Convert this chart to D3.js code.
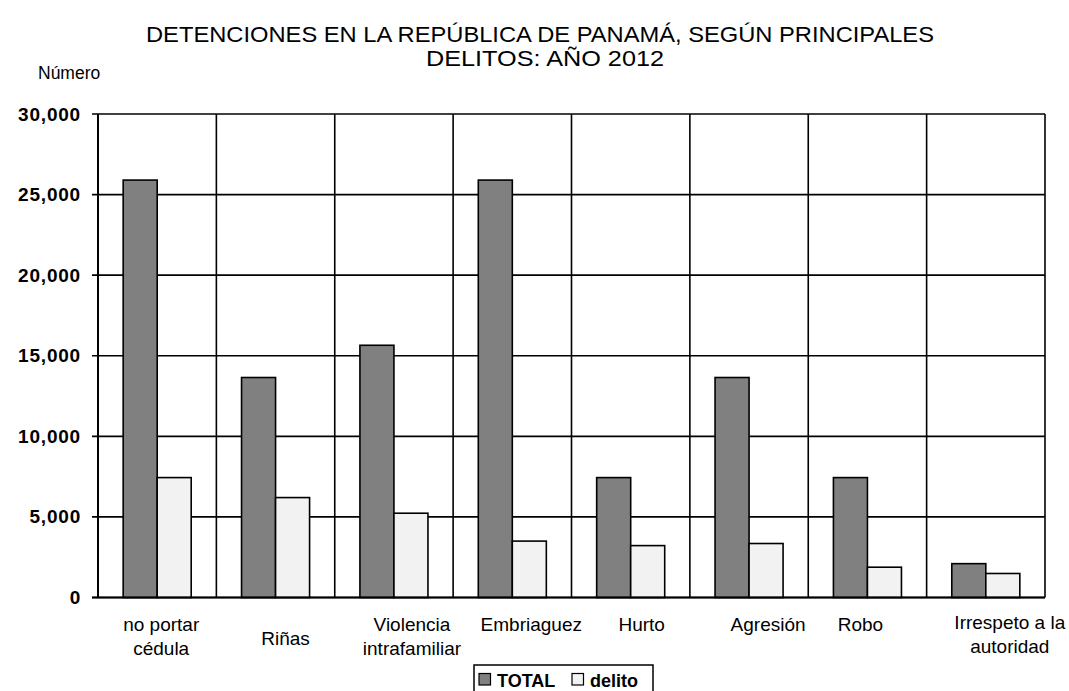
<!DOCTYPE html>
<html><head><meta charset="utf-8">
<script src="https://cdn.jsdelivr.net/npm/d3@7"></script>
<style>body{margin:0;background:#fff}text{font-family:"Liberation Sans",Arial,sans-serif}</style>
</head><body><svg id="c" width="1069" height="691"></svg>
<script>
const categories = [["no portar","cédula"],["Riñas"],["Violencia","intrafamiliar"],["Embriaguez"],["Hurto"],["Agresión"],["Robo"],["Irrespeto a la","autoridad"]];
const seriesNames = ["TOTAL","delito"];
const totalValues = [25900, 13650, 15650, 25900, 7440, 13650, 7440, 2100];
const delitoValues = [7440, 6200, 5230, 3500, 3220, 3350, 1880, 1490];
const yTicks = [0, 5000, 10000, 15000, 20000, 25000, 30000];
const titleLines = ["DETENCIONES EN LA REPÚBLICA DE PANAMÁ, SEGÚN PRINCIPALES","DELITOS: AÑO 2012"];
const yTitle = "Número";

const colors = ["#808080","#f2f2f2"];
const svg = d3.select("#c");
const L=98,R=1045,T=114,B=597.5;
const x = d3.scaleBand().domain(d3.range(categories.length)).range([L,R]).paddingInner(0).paddingOuter(0);
const y = d3.scaleLinear().domain([0,30000]).range([B,T]);
const inner = d3.scaleBand().domain([0,1]).range([0,x.bandwidth()]).paddingInner(0).paddingOuter(0.74);

// title
const titleW=[788,238], titleCx=[540,545];
svg.selectAll("text.title").data(titleLines).join("text").attr("class","title")
  .attr("x",(d,i)=>titleCx[i]-titleW[i]/2).attr("y",(d,i)=>42+i*24).attr("font-size",22)
  .attr("textLength",(d,i)=>titleW[i]).attr("lengthAdjust","spacingAndGlyphs").text(d=>d);
svg.append("text").attr("x",38).attr("y",79).attr("font-size",17.5).text(yTitle);

// grid
const g = svg.append("g");
g.selectAll("line.h").data(yTicks).join("line").attr("x1",L-6).attr("x2",R).attr("y1",d=>y(d)).attr("y2",d=>y(d))
  .attr("stroke","#000").attr("stroke-width",1.6);
g.selectAll("line.v").data(d3.range(categories.length+1)).join("line")
  .attr("x1",i=>i<categories.length?x(i):R).attr("x2",i=>i<categories.length?x(i):R).attr("y1",T).attr("y2",B)
  .attr("stroke","#000").attr("stroke-width",1.6);

// y labels
svg.selectAll("text.yl").data(yTicks).join("text").attr("class","yl")
  .attr("x",81).attr("y",d=>y(d)+6.5).attr("text-anchor","end").attr("font-size",19).attr("font-weight","bold")
  .attr("letter-spacing",0.8).text(d=>d3.format(",")(d));

// bars
const series=[totalValues,delitoValues];
series.forEach((vals,s)=>{
  svg.selectAll("rect.s"+s).data(vals).join("rect").attr("class","s"+s)
    .attr("x",(d,i)=>x(i)+inner(s)).attr("width",inner.bandwidth())
    .attr("y",d=>y(d)).attr("height",d=>B-y(d))
    .attr("fill",colors[s]).attr("stroke","#000").attr("stroke-width",1.6);
});
// axes lines
svg.append("line").attr("x1",L).attr("x2",L).attr("y1",T).attr("y2",B).attr("stroke","#000").attr("stroke-width",2);
svg.append("line").attr("x1",L-6).attr("x2",R).attr("y1",B).attr("y2",B).attr("stroke","#000").attr("stroke-width",2);

// x labels (slight per-label shifts as in source rendering)
const labelShift=[4,10,18,19,11,19,-7,24];
const labelDy=[0,14,0,0,0,0,0,-2];
categories.forEach((lines,i)=>{
  const t=svg.append("text").attr("text-anchor","middle").attr("font-size",19);
  lines.forEach((ln,j)=>{
    t.append("tspan").attr("x",x(i)+x.bandwidth()/2+labelShift[i]).attr("y",631+labelDy[i]+j*24).text(ln);
  });
});

// legend
const lg=svg.append("g");
lg.append("rect").attr("x",474).attr("y",665).attr("width",179).attr("height",40).attr("fill","#fff").attr("stroke","#000").attr("stroke-width",1.5);
const lx=[479,572];
seriesNames.forEach((n,i)=>{
  lg.append("rect").attr("x",lx[i]).attr("y",673.5).attr("width",11.5).attr("height",11.5).attr("fill",colors[i]).attr("stroke","#000").attr("stroke-width",1.2);
  lg.append("text").attr("x",lx[i]+18).attr("y",686.5).attr("font-size",18).attr("font-weight","bold").text(n);
});
</script></body></html>
